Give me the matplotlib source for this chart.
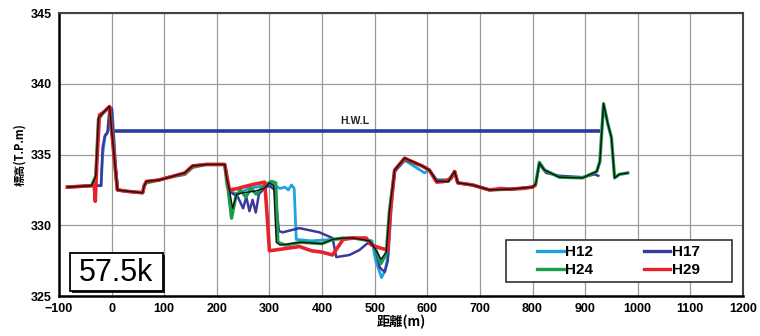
import matplotlib
matplotlib.use("Agg")
import matplotlib.pyplot as plt
from matplotlib.patches import Rectangle

# Cross-section survey profiles (distance m, elevation T.P. m)
h12_x = [-84, -38, -20, -17, -12, -6, -3, 1, 8, 12, 30, 59, 62, 66, 90, 110, 139, 154, 180, 215,
         219, 224, 240, 260, 290, 305, 320, 329, 336, 342, 347, 351, 380, 420, 460, 495, 502, 513, 520, 526,
         532, 538, 557, 595, 604, 618, 640, 652, 658, 686, 718, 757, 800]
h12_y = [332.7, 332.8, 332.8, 335.0, 336.4, 336.7, 338.2, 338.2, 334.0, 332.5, 332.4, 332.3, 332.8, 333.1, 333.2, 333.4, 333.7, 334.2, 334.3, 334.3,
         333.5, 332.4, 332.2, 332.6, 332.8, 332.9, 332.6, 332.7, 332.5, 332.85, 332.6, 329.0, 328.9, 329.0, 329.1, 328.9, 327.5, 326.3, 326.8, 328.0,
         331.5, 333.8, 334.6, 333.7, 333.9, 333.2, 333.2, 333.8, 333.0, 332.85, 332.5, 332.55, 332.7]

h17_x = [-84, -38, -20, -17, -13, -8, -4, 0, 8, 12, 30, 59, 62, 66, 90, 110, 139, 154, 180, 215,
         219, 224, 240, 250, 256, 262, 268, 274, 280, 290, 300, 310, 318, 325, 357, 395, 420, 427, 452, 471,
         487, 500, 510, 519, 525, 530, 538, 557, 590, 604, 618, 640, 652, 658, 686, 718, 757, 800, 806, 813,
         826, 851, 895, 918, 925]
h17_y = [332.7, 332.8, 332.8, 335.5, 336.3, 336.5, 338.3, 338.3, 334.0, 332.5, 332.4, 332.3, 332.8, 333.1, 333.2, 333.4, 333.7, 334.2, 334.3, 334.3,
         333.5, 332.4, 332.0, 331.2, 332.0, 331.0, 331.8, 330.9, 332.2, 332.6, 332.8, 332.5, 329.6, 329.5, 329.8, 329.5, 329.1, 327.75, 327.9, 328.25,
         328.75, 328.5, 327.0, 326.7, 327.5, 331.5, 333.8, 334.6, 334.2, 333.9, 333.2, 333.2, 333.8, 333.0, 332.85, 332.5, 332.55, 332.7, 332.9, 334.3,
         333.7, 333.5, 333.4, 333.6, 333.5]

h24_x = [-84, -38, -30, -25, -15, -4, 2, 11, 30, 59, 62, 66, 90, 110, 139, 154, 180, 215, 219, 222,
         228, 236, 245, 255, 265, 275, 290, 304, 312, 316, 330, 360, 400, 420, 440, 460, 490, 500, 512, 522,
         528, 538, 557, 590, 604, 618, 640, 652, 658, 686, 718, 757, 800, 806, 813, 823, 851, 895, 922, 928,
         935, 943, 950, 956, 965, 981]
h24_y = [332.7, 332.8, 333.5, 337.5, 338.0, 338.3, 336.0, 332.5, 332.4, 332.3, 332.8, 333.0, 333.2, 333.4, 333.6, 334.1, 334.3, 334.3, 333.0, 332.4,
         330.5, 332.0, 332.5, 332.0, 332.6, 332.2, 332.8, 333.1, 333.0, 328.8, 328.6, 328.8, 328.7, 329.0, 329.1, 329.1, 328.9, 328.5, 327.3, 328.0,
         331.0, 333.9, 334.7, 334.2, 333.9, 333.1, 333.1, 333.8, 333.0, 332.85, 332.5, 332.55, 332.7, 332.9, 334.45, 333.9, 333.4, 333.35, 333.8, 334.5,
         338.6, 337.2, 336.2, 333.35, 333.6, 333.7]

h29_x = [-84, -38, -33, -31, -28, -23, -15, -4, 2, 11, 30, 59, 62, 66, 90, 110, 139, 154, 180, 215,
         219, 224, 240, 249, 270, 291, 296, 300, 320, 357, 380, 400, 420, 440, 458, 484, 494, 510, 525, 530,
         538, 557, 565, 590, 604, 612, 618, 632, 645, 652, 658, 686, 718, 740, 757, 780, 800, 804]
h29_y = [332.7, 332.8, 332.8, 331.7, 334.5, 337.8, 338.0, 338.4, 336.0, 332.5, 332.4, 332.3, 332.8, 333.1, 333.2, 333.4, 333.7, 334.2, 334.3, 334.3,
         333.5, 332.5, 332.6, 332.7, 332.9, 333.05, 330.5, 328.2, 328.3, 328.5, 328.2, 328.1, 327.9, 329.0, 329.1, 329.1, 328.6, 328.4, 328.25, 331.0,
         333.9, 334.75, 334.6, 334.2, 333.9, 333.4, 333.05, 333.1, 333.3, 333.8, 333.0, 332.85, 332.5, 332.6, 332.55, 332.6, 332.7, 332.8]

# thin black survey trace drawn over the coloured profiles
base_x = [-84, -38, -30, -25, -15, -4, 2, 11, 30, 59, 62, 66, 90, 110, 139, 154, 180, 215, 219, 224,
          230, 238, 250, 270, 290, 300, 308, 313, 320, 360, 400, 420, 440, 460, 490, 500, 512, 522, 528, 538,
          557, 590, 604, 618, 640, 652, 658, 686, 718, 757, 800, 806, 813, 823, 851, 895, 922, 928, 935, 943,
          950, 956, 965, 981]
base_y = [332.7, 332.8, 333.5, 337.6, 338.0, 338.4, 336.0, 332.5, 332.4, 332.3, 332.8, 333.1, 333.2, 333.4, 333.7, 334.2, 334.3, 334.3, 333.3, 332.5,
          331.2, 332.2, 332.3, 332.4, 332.6, 333.0, 332.8, 328.8, 328.6, 328.8, 328.7, 329.0, 329.1, 329.1, 328.9, 328.4, 327.6, 328.1, 331.0, 333.9,
          334.75, 334.2, 333.9, 333.1, 333.1, 333.8, 333.0, 332.85, 332.5, 332.55, 332.7, 332.9, 334.4, 333.9, 333.4, 333.35, 333.8, 334.5, 338.6, 337.2,
          336.2, 333.35, 333.6, 333.7]

hwl_level = 336.7
hwl_x = [5, 928]

x_ticks = list(range(-100, 1201, 100))
y_ticks = [325, 330, 335, 340, 345]

plt.rcParams['font.family'] = ['Liberation Sans', 'Noto Sans CJK JP', 'DejaVu Sans']

fig = plt.figure(figsize=(7.6, 3.36), dpi=100)
ax = fig.add_axes([0.0776, 0.119, 0.9, 0.842])

ax.set_xlim(-100, 1200)
ax.set_ylim(325, 345)
ax.set_xticks(x_ticks)
ax.set_yticks(y_ticks)
ax.grid(True, color='#9a9a9a', linewidth=0.9)
ax.set_axisbelow(True)
ax.tick_params(length=0, pad=5, labelsize=9)
for lab in ax.get_xticklabels() + ax.get_yticklabels():
    lab.set_fontweight('bold')

for side in ('left', 'bottom'):
    ax.spines[side].set_color('black')
    ax.spines[side].set_linewidth(1.8)
for side in ('top', 'right'):
    ax.spines[side].set_color('#444444')
    ax.spines[side].set_linewidth(1.5)

ax.hlines(hwl_level, hwl_x[0], hwl_x[1], color='#2b3c9e', linewidth=2.6, zorder=3)
ax.text(463, hwl_level + 0.35, 'H.W.L', fontsize=7.5, fontweight='bold',
        ha='center', va='bottom', color='#222222')

l12, = ax.plot(h12_x, h12_y, color='#1ea3dc', linewidth=2.0, label='H12', zorder=4)
l17, = ax.plot(h17_x, h17_y, color='#3a3a9c', linewidth=1.8, label='H17', zorder=4)
l24, = ax.plot(h24_x, h24_y, color='#1a9e4c', linewidth=2.4, label='H24', zorder=5)
l29, = ax.plot(h29_x, h29_y, color='#e8222c', linewidth=2.6, label='H29', zorder=6)
ax.plot(base_x, base_y, color='#111111', linewidth=1.0, zorder=7)

# legend frame drawn as its own box; entries centred inside it
ax.add_patch(Rectangle((0.653, 0.049), 0.331, 0.149, transform=ax.transAxes,
                       facecolor='white', edgecolor='#222222', linewidth=1.1, zorder=8))
# legend fills column-wise: order so rows read H12/H17 and H24/H29
leg = ax.legend([l12, l24, l17, l29], ['H12', 'H24', 'H17', 'H29'],
                loc='center', bbox_to_anchor=(0.818, 0.1235),
                ncol=2, frameon=False, borderaxespad=0,
                handlelength=1.75, handletextpad=0.1, columnspacing=3.3,
                labelspacing=0.25, borderpad=0.2,
                prop={'weight': 'bold', 'size': 11})
leg.set_zorder(9)
for line in leg.get_lines():
    line.set_linewidth(2.4)

# station label box with drop shadow
ax.add_patch(Rectangle((0.019, 0.011), 0.136, 0.134, transform=ax.transAxes,
                       facecolor='#222222', edgecolor='none', zorder=8))
ax.add_patch(Rectangle((0.016, 0.018), 0.136, 0.134, transform=ax.transAxes,
                       facecolor='white', edgecolor='black', linewidth=1.3, zorder=9))
ax.text(0.084, 0.083, '57.5k', transform=ax.transAxes, fontsize=22,
        ha='center', va='center', zorder=10)

ax.set_ylabel('標高(T.P.m)', fontsize=8, fontweight='bold',
              family=['Noto Sans CJK JP', 'DejaVu Sans'], labelpad=3)
ax.set_xlabel('距離(m)', fontsize=9.5, fontweight='bold',
              family=['Noto Sans CJK JP', 'DejaVu Sans'], labelpad=0)

fig.savefig('out.png', dpi=100)
